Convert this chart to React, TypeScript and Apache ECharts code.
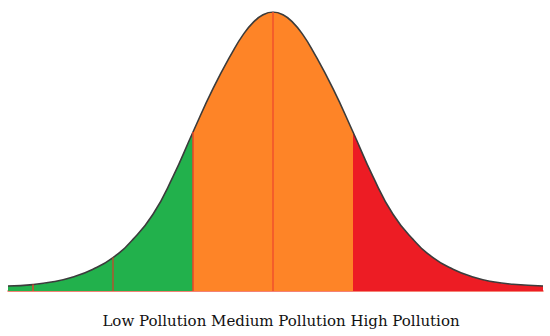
import React, { useEffect, useRef } from "react";
import * as echarts from "echarts";

// positions along the curve, in standard deviations from the mean
const zValues = [-3.3125, -3, -2.75, -2.5, -2.25, -2, -1.75, -1.5, -1.25, -1, -0.75, -0.5, -0.375, -0.25, -0.125, 0, 0.125, 0.25, 0.375, 0.5, 0.75, 1, 1.25, 1.5, 1.75, 2, 2.25, 2.5, 2.75, 3, 3.375];
// relative curve height (peak = 1)
const heights = [0.018, 0.023, 0.033, 0.05, 0.078, 0.12, 0.185, 0.275, 0.41, 0.57, 0.725, 0.86, 0.918, 0.962, 0.99, 1.0, 0.99, 0.962, 0.918, 0.86, 0.725, 0.57, 0.41, 0.275, 0.185, 0.12, 0.078, 0.05, 0.033, 0.024, 0.018];
// band boundaries
const lowUpper = -1;
const highLower = 1;
// vertical divider lines
const dividerZ = [-3, -2, -1, 0];
const dividerColors = ["#e0452c", "#b0562f", "#e8452a", "#f0502c"];
const caption = "Low Pollution Medium Pollution High Pollution";

export default function App() {
  const ref = useRef<HTMLDivElement>(null);
  useEffect(() => {
    if (!ref.current) return;
    const chart = echarts.init(ref.current, null, { renderer: "svg" });
    const curve = zValues.map((z, i) => [z, heights[i]]);
    const dividers = dividerZ.map((z, i) => {
      const idx = zValues.indexOf(z);
      return [
        { coord: [z, 0], lineStyle: { color: dividerColors[i], width: 1.5, type: "solid" } },
        { coord: [z, heights[idx]] },
      ];
    });
    chart.setOption({
      animation: false,
      grid: { left: 8, right: 7, top: 12, bottom: 45 },
      xAxis: {
        type: "value",
        min: zValues[0],
        max: zValues[zValues.length - 1],
        axisLine: { show: true, onZero: false, lineStyle: { color: "#f05a48", width: 1.5 } },
        axisTick: { show: false },
        axisLabel: { show: false },
        splitLine: { show: false },
      },
      yAxis: {
        type: "value",
        min: 0,
        max: 1,
        axisLine: { show: false },
        axisTick: { show: false },
        axisLabel: { show: false },
        splitLine: { show: false },
      },
      visualMap: {
        type: "piecewise",
        show: false,
        dimension: 0,
        seriesIndex: 0,
        pieces: [
          { lt: lowUpper, color: "#22b14c" },
          { gte: lowUpper, lte: highLower, color: "#fe8427" },
          { gt: highLower, color: "#ed1c24" },
        ],
      },
      graphic: [
        {
          type: "text",
          x: 281,
          y: 321,
          style: {
            text: caption,
            align: "center",
            verticalAlign: "middle",
            fontFamily: "DejaVu Serif",
            fontSize: 15,
            fill: "#111",
          },
        },
      ],
      series: [
        {
          type: "line",
          data: curve,
          smooth: 0.5,
          symbol: "none",
          lineStyle: { width: 0 },
          areaStyle: { opacity: 1 },
          z: 1,
        },
        {
          type: "line",
          data: curve,
          smooth: 0.5,
          symbol: "none",
          lineStyle: { color: "#3c3c3c", width: 1.6 },
          z: 3,
          markLine: {
            silent: true,
            symbol: ["none", "none"],
            label: { show: false },
            data: dividers,
          },
        },
      ],
    });
    return () => chart.dispose();
  }, []);
  return <div ref={ref} style={{ position: "absolute", left: 0, top: 0, width: 550, height: 336 }} />;
}
